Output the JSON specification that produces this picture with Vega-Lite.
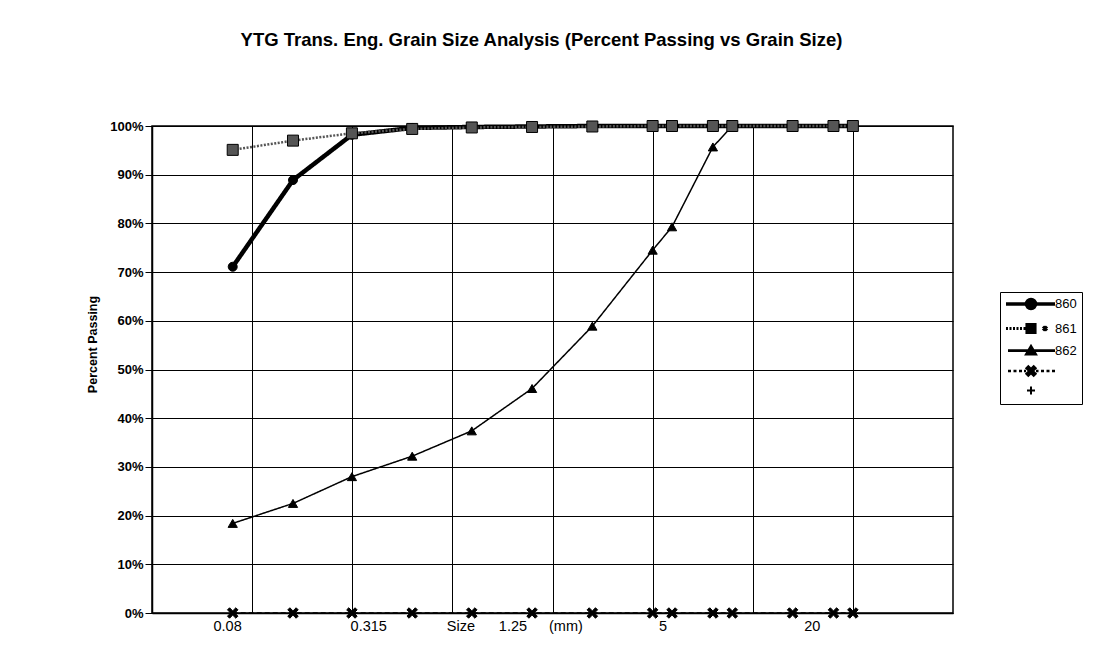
{
  "$schema": "https://vega.github.io/schema/vega-lite/v6.json",
  "width": 801,
  "height": 487,
  "autosize": {"type": "none"},
  "padding": {"left": 152, "top": 126, "right": 161, "bottom": 32},
  "background": "white",
  "title": {"text": "YTG Trans. Eng. Grain Size Analysis (Percent Passing vs Grain Size)", "font": "Liberation Sans", "fontSize": 18.5, "fontWeight": "bold", "color": "black", "anchor": "middle", "dx": -11, "offset": 68},
  "config": {"view": {"stroke": "black", "strokeWidth": 1.5}},
  "data": {"values": [
    {"series": "860", "size": 0.08, "pct": 0.711},
    {"series": "860", "size": 0.16, "pct": 0.889},
    {"series": "860", "size": 0.315, "pct": 0.982},
    {"series": "860", "size": 0.63, "pct": 0.996},
    {"series": "860", "size": 1.25, "pct": 0.998},
    {"series": "860", "size": 2.5, "pct": 0.999},
    {"series": "860", "size": 5, "pct": 1.0},
    {"series": "860", "size": 10, "pct": 1.0},
    {"series": "860", "size": 12.5, "pct": 1.0},
    {"series": "860", "size": 20, "pct": 1.0},
    {"series": "860", "size": 25, "pct": 1.0},
    {"series": "860", "size": 50, "pct": 1.0},
    {"series": "860", "size": 80, "pct": 1.0},
    {"series": "860", "size": 100, "pct": 1.0},
    {"series": "862", "size": 0.08, "pct": 0.184},
    {"series": "862", "size": 0.16, "pct": 0.225},
    {"series": "862", "size": 0.315, "pct": 0.28},
    {"series": "862", "size": 0.63, "pct": 0.322},
    {"series": "862", "size": 1.25, "pct": 0.374},
    {"series": "862", "size": 2.5, "pct": 0.461},
    {"series": "862", "size": 5, "pct": 0.589},
    {"series": "862", "size": 10, "pct": 0.745},
    {"series": "862", "size": 12.5, "pct": 0.793},
    {"series": "862", "size": 20, "pct": 0.957},
    {"series": "862", "size": 25, "pct": 1.0},
    {"series": "862", "size": 50, "pct": 1.0},
    {"series": "862", "size": 80, "pct": 1.0},
    {"series": "862", "size": 100, "pct": 1.0},
    {"series": "863", "size": 0.08, "pct": 0},
    {"series": "863", "size": 0.16, "pct": 0},
    {"series": "863", "size": 0.315, "pct": 0},
    {"series": "863", "size": 0.63, "pct": 0},
    {"series": "863", "size": 1.25, "pct": 0},
    {"series": "863", "size": 2.5, "pct": 0},
    {"series": "863", "size": 5, "pct": 0},
    {"series": "863", "size": 10, "pct": 0},
    {"series": "863", "size": 12.5, "pct": 0},
    {"series": "863", "size": 20, "pct": 0},
    {"series": "863", "size": 25, "pct": 0},
    {"series": "863", "size": 50, "pct": 0},
    {"series": "863", "size": 80, "pct": 0},
    {"series": "863", "size": 100, "pct": 0},
    {"series": "861", "size": 0.08, "pct": 0.951},
    {"series": "861", "size": 0.16, "pct": 0.97},
    {"series": "861", "size": 0.315, "pct": 0.985},
    {"series": "861", "size": 0.63, "pct": 0.994},
    {"series": "861", "size": 1.25, "pct": 0.997},
    {"series": "861", "size": 2.5, "pct": 0.998},
    {"series": "861", "size": 5, "pct": 0.999},
    {"series": "861", "size": 10, "pct": 1.0},
    {"series": "861", "size": 12.5, "pct": 1.0},
    {"series": "861", "size": 20, "pct": 1.0},
    {"series": "861", "size": 25, "pct": 1.0},
    {"series": "861", "size": 50, "pct": 1.0},
    {"series": "861", "size": 80, "pct": 1.0},
    {"series": "861", "size": 100, "pct": 1.0}
  ]},
  "layer": [
    {
      "mark": {"type": "line", "clip": false},
      "encoding": {
        "x": {"field": "size", "type": "quantitative",
          "scale": {"type": "log", "domain": [0.0316228, 316.228], "nice": false},
          "axis": {"orient": "top", "values": [0.1, 0.316228, 1, 3.16228, 10, 31.6228, 100], "grid": true, "gridColor": "black", "gridOpacity": 1, "gridWidth": 1, "labels": false, "ticks": false, "domain": false, "title": null}},
        "y": {"field": "pct", "type": "quantitative",
          "scale": {"domain": [0, 1], "nice": false},
          "axis": {"values": [0, 0.1, 0.2, 0.3, 0.4, 0.5, 0.6, 0.7, 0.8, 0.9, 1], "format": ".0%", "grid": true, "gridColor": "black", "gridOpacity": 1, "gridWidth": 1, "tickColor": "black", "tickSize": 7, "tickWidth": 1, "domainColor": "black", "domainWidth": 1.5, "labelFont": "Liberation Sans", "labelFontSize": 13, "labelFontWeight": "bold", "labelColor": "black", "labelPadding": 2, "title": "Percent Passing", "titleFont": "Liberation Sans", "titleFontSize": 12.5, "titleFontWeight": "bold", "titleColor": "black", "titleX": -60, "titleY": 218, "titleAngle": -90, "titleAlign": "center", "titleBaseline": "middle"}},
        "detail": {"field": "series", "type": "nominal"},
        "color": {"condition": {"test": "datum.series === '861'", "value": "#555555"}, "value": "black"},
        "strokeWidth": {"condition": [{"test": "datum.series === '860'", "value": 4.5}, {"test": "datum.series === '861'", "value": 2.5}, {"test": "datum.series === '862'", "value": 1.5}], "value": 1.3},
        "strokeDash": {"condition": [{"test": "datum.series === '861'", "value": [2, 1.5]}, {"test": "datum.series === '863'", "value": [5, 3]}], "value": [1, 0]}
      }
    },
    {
      "mark": {"type": "point", "filled": true, "opacity": 1, "stroke": "black", "strokeWidth": 1, "clip": false},
      "encoding": {
        "x": {"field": "size", "type": "quantitative",
          "axis": {"orient": "bottom", "values": [0.075, 0.38, 1.096, 1.995, 3.67, 11.2, 62.4], "labelExpr": "datum.value < 0.1 ? '0.08' : datum.value < 0.5 ? '0.315' : datum.value < 1.5 ? 'Size' : datum.value < 3 ? '1.25' : datum.value < 5 ? '(mm)' : datum.value < 20 ? '5' : '20'", "grid": false, "ticks": false, "domain": true, "domainColor": "black", "domainWidth": 1.5, "labelFont": "Liberation Sans", "labelFontSize": 14.5, "labelColor": "black", "labelPadding": 6, "labelFlush": false, "labelOverlap": false, "title": null}},
        "y": {"field": "pct", "type": "quantitative"},
        "shape": {"condition": [{"test": "datum.series === '860'", "value": "circle"}, {"test": "datum.series === '861'", "value": "square"}, {"test": "datum.series === '862'", "value": "triangle-up"}], "value": "M-1,-0.6L-0.6,-1L0,-0.4L0.6,-1L1,-0.6L0.4,0L1,0.6L0.6,1L0,0.4L-0.6,1L-1,0.6L-0.4,0Z"},
        "size": {"condition": [{"test": "datum.series === '860'", "value": 81}, {"test": "datum.series === '861'", "value": 121}, {"test": "datum.series === '862'", "value": 85}], "value": 110},
        "fill": {"condition": {"test": "datum.series === '861'", "value": "#555555"}, "value": "black"}
      }
    },
    {
      "transform": [{"filter": "false"}],
      "mark": {"type": "point", "filled": true, "fill": "black", "stroke": "black"},
      "encoding": {
        "x": {"field": "size", "type": "quantitative", "axis": null},
        "y": {"field": "pct", "type": "quantitative"},
        "shape": {"field": "series", "type": "nominal",
          "scale": {"domain": ["860", "861", "862", "863", "864"], "range": [
            "M-1.2,0H8.6M4.7,0A0.9,0.9,0,1,1,2.9,0A0.9,0.9,0,1,1,4.7,0Z",
            "M-1.2,0H-0.8M-0.5,0H-0.1M0.2,0H0.6M0.9,0H1.3M1.6,0H2.0M2.3,0H2.7M3,-0.8H4.6V0.8H3ZM6.2,-0.4L7,0.4M6.2,0.4L7,-0.4",
            "M-0.8,0H8.6M2.9,0.7H4.7L3.8,-0.8Z",
            "M-0.8,0H-0.2M0.3,0H0.9M1.4,0H2M2.4,0H2.8M4.8,0H5.3M5.8,0H6.4M6.9,0H7.5M8,0H8.6M2.9,-0.54L3.26,-0.9L3.8,-0.36L4.34,-0.9L4.7,-0.54L4.16,0L4.7,0.54L4.34,0.9L3.8,0.36L3.26,0.9L2.9,0.54L3.44,0Z",
            "M3,0H4.6M3.8,-0.8V0.8"]},
          "legend": {
            "orient": "none", "legendX": 848, "legendY": 166, "title": null,
            "strokeColor": "black", "fillColor": "white", "padding": 5, "rowPadding": 1.5,
            "symbolSize": 100, "symbolOpacity": 1, "labelOffset": 36,
            "labelFont": "Liberation Sans", "labelFontSize": 13, "labelColor": "black",
            "labelExpr": "indexof(['860','861','862'], datum.label) >= 0 ? datum.label : ''"
          }},
        "strokeWidth": {"field": "series", "type": "nominal",
          "scale": {"domain": ["860", "861", "862", "863", "864"], "range": [3.5, 2, 1.5, 1.3, 1.5]}}
      }
    }
  ],
  "resolve": {"axis": {"x": "independent"}}
}
